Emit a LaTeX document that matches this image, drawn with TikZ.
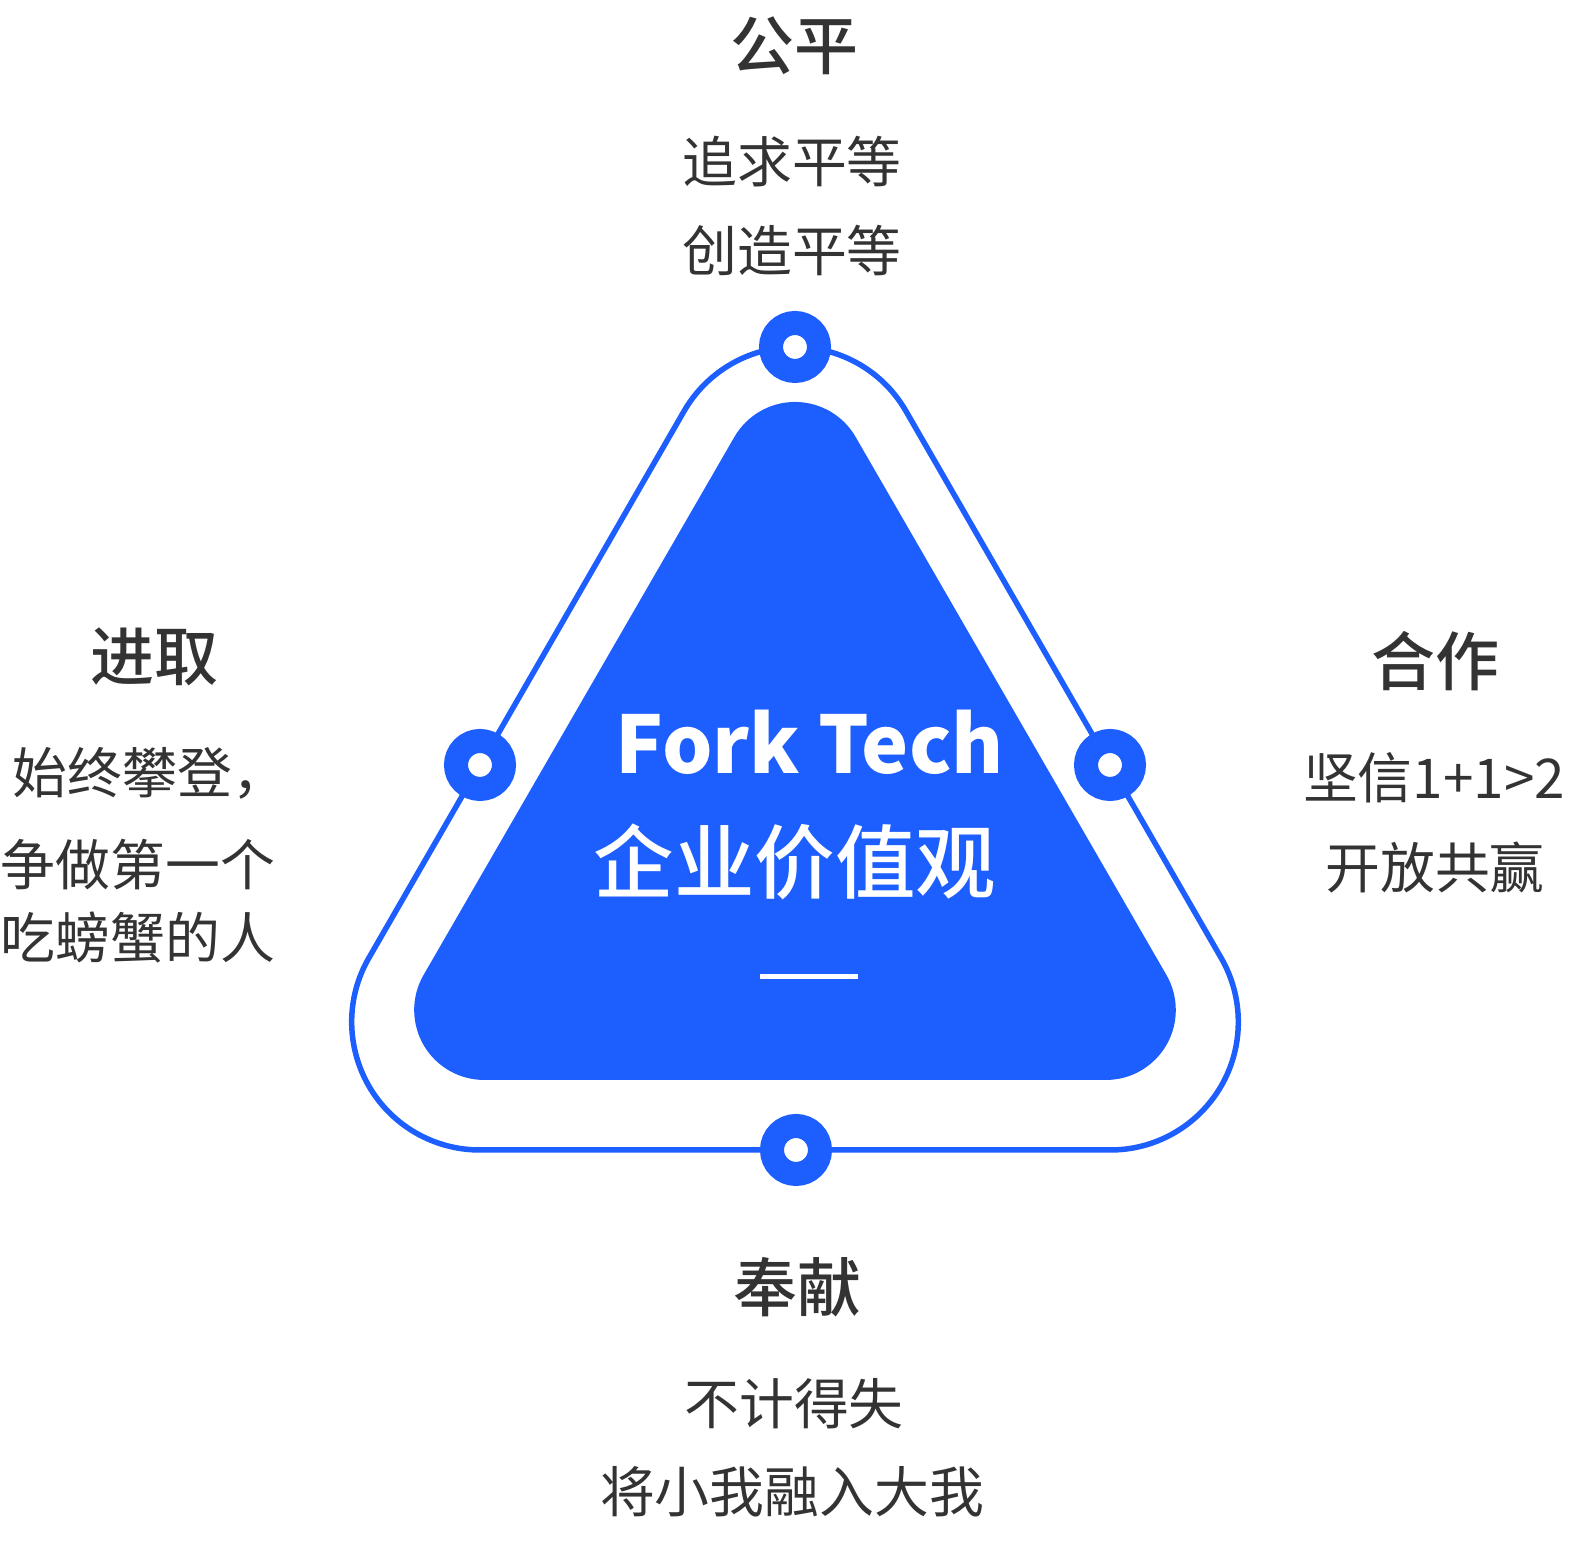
\documentclass[tikz,border=0pt]{standalone}
\usepackage{fontspec}
\setmainfont{Noto Sans CJK SC}
\newfontfamily\mediumfont{Noto Sans CJK SC Medium}
\usetikzlibrary{calc}
\definecolor{forkblue}{RGB}{29,94,255}
\definecolor{textgray}{RGB}{51,51,51}
\tikzset{
	heading/.style={inner sep=0pt, text=textgray, font=\fontsize{18.2}{20}\selectfont\mediumfont},
	body/.style={inner sep=0pt, text=textgray, font=\fontsize{15.6}{18}\selectfont},
	ringdot/.style={circle, fill=white, draw=forkblue, line width=0.24cm, minimum size=0.48cm, inner sep=0pt},
}

\begin{document}
\begin{tikzpicture}
			%%%%% START %%%%%
			\useasboundingbox (0, 0) rectangle (15.70, 15.54);
			
			\fill[forkblue] ($(7.95, 10.82)+(30:0.7)$) arc (30:150:0.7)
				-- ($(4.842, 5.44)+(150:0.7)$) arc (150:270:0.7)
				-- ($(11.058, 5.44)+(270:0.7)$) arc (270:390:0.7) -- cycle;
			
			\draw[forkblue, line width=0.055cm] ($(7.95, 10.79)+(30:1.28)$) arc (30:150:1.28)
				-- ($(4.797, 5.32)+(150:1.28)$) arc (150:270:1.28)
				-- ($(11.103, 5.32)+(270:1.28)$) arc (270:390:1.28) -- cycle;
			
			\node[ringdot] (dottop) at (7.95, 12.07) {};
			\node[ringdot] (dotleft) at (4.80, 7.89) {};
			\node[ringdot] (dotright) at (11.10, 7.89) {};
			\node[ringdot] (dotbottom) at (7.96, 4.04) {};
			
			\node[inner sep=0pt, text=white, font=\fontsize{22.6}{25}\selectfont\bfseries] (brand) at (8.10, 8.12) {Fork Tech};
			\node[inner sep=0pt, text=white, font=\fontsize{22.9}{25}\selectfont\mediumfont] (title) at (7.95, 6.92) {企业价值观};
			\draw[white, line width=0.05cm] (7.60, 5.77) -- (8.58, 5.77);
			
			\node[heading] (fair) at (7.94, 15.08) {公平};
			\node[body] (fairA) at (7.92, 13.92) {追求平等};
			\node[body] (fairB) at (7.92, 13.03) {创造平等};
			
			\node[heading] (ambition) at (1.54, 8.97) {进取};
			\node[body] (ambitionA) at (1.50, 7.81) {始终攀登，};
			\node[body] (ambitionB) at (1.38, 6.89) {争做第一个};
			\node[body] (ambitionC) at (1.38, 6.16) {吃螃蟹的人};
			
			\node[heading] (teamwork) at (14.35, 8.93) {合作};
			\node[body] (teamworkA) at (14.34, 7.76) {坚信1+1>2};
			\node[body] (teamworkB) at (14.35, 6.86) {开放共赢};
			
			\node[heading] (devotion) at (7.97, 2.67) {奉献};
			\node[body] (devotionA) at (7.94, 1.50) {不计得失};
			\node[body] (devotionB) at (7.92, 0.62) {将小我融入大我};
			%%%%% END %%%%%
\end{tikzpicture}
\end{document}
